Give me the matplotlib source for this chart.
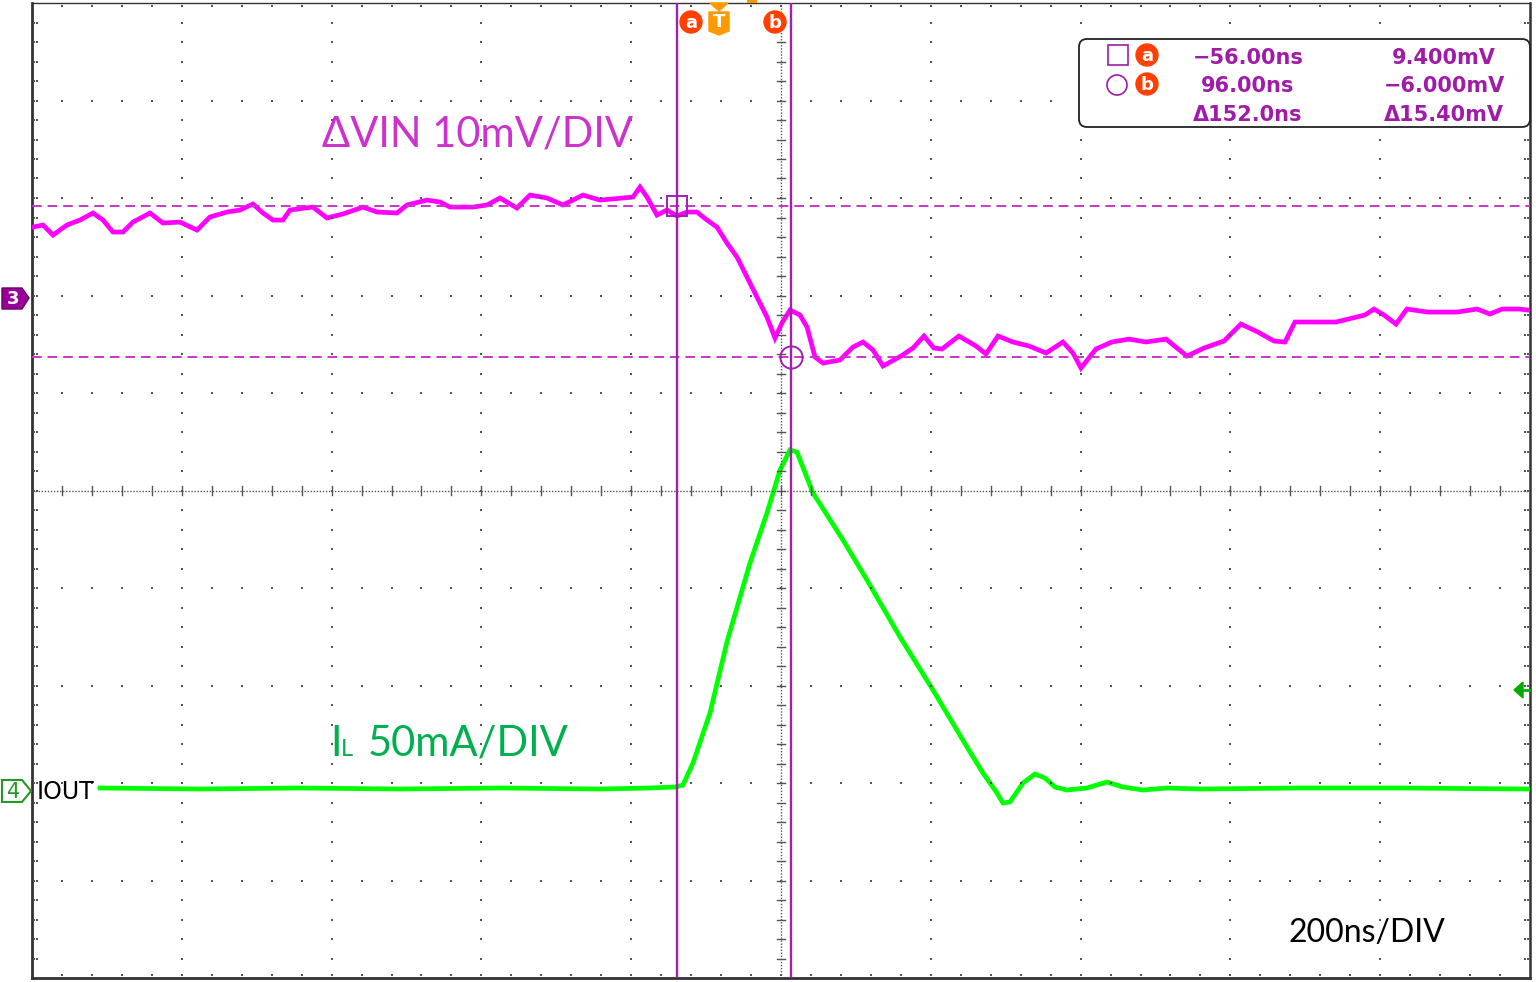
import numpy as np
import matplotlib
matplotlib.use('Agg')
import matplotlib.pyplot as plt
from matplotlib.patches import Polygon, Rectangle, Circle, FancyBboxPatch

# ---------------- data (time in ns relative to trigger) ----------------
vin_t = [-915.9, -902.5, -889.2, -870.5, -853.1, -835.8, -822.4, -809.1, -795.7, -782.4,
         -759.7, -742.3, -719.6, -696.9, -679.6, -656.9, -639.5, -622.2, -608.8, -595.5,
         -582.1, -572.8, -542.1, -523.4, -502.0, -475.3, -456.6, -429.9, -416.6, -389.9,
         -372.5, -359.1, -328.4, -309.7, -292.4, -269.7, -252.3, -229.6, -208.3, -181.6,
         -158.9, -128.2, -114.8, -105.5, -96.1, -82.8, -69.4, -56.1, -42.7, -29.4,
         -16.0, -2.7, 10.7, 24.0, 37.4, 50.7, 64.1, 74.8, 84.1, 94.8,
         108.1, 117.5, 128.2, 138.9, 161.5, 178.9, 192.3, 205.6, 219.0, 243.0,
         259.0, 273.7, 287.0, 297.7, 320.4, 343.1, 356.5, 372.5, 392.5, 413.9,
         436.6, 459.3, 472.6, 483.3, 503.3, 524.7, 547.4, 570.1, 596.8, 624.8,
         647.5, 674.2, 696.9, 719.6, 741.0, 755.7, 769.0, 797.1, 823.8, 862.5,
         874.5, 887.8, 903.9, 918.5, 946.6, 985.3, 1012.0, 1029.4, 1045.4, 1068.1,
         1080.1]
vin_mv = [7.28, 7.49, 6.46, 7.49, 8.00, 8.72, 8.00, 6.77, 6.77, 7.79,
          8.72, 7.69, 7.79, 6.97, 8.31, 8.82, 9.03, 9.64, 8.72, 8.00,
          8.00, 9.03, 9.33, 8.21, 8.62, 9.33, 8.82, 8.72, 9.54, 10.05,
          9.85, 9.33, 9.33, 9.54, 10.26, 9.23, 10.56, 10.26, 9.54, 10.56,
          10.05, 10.26, 10.36, 11.38, 10.36, 8.51, 9.03, 8.41, 8.82, 8.82,
          8.00, 7.28, 5.64, 4.21, 2.15, 0.10, -1.95, -4.10, -2.56, -1.23,
          -1.74, -2.97, -6.05, -6.67, -6.36, -5.03, -4.51, -5.33, -6.97, -5.95,
          -5.13, -3.90, -5.13, -5.23, -3.90, -4.92, -5.74, -3.90, -4.51, -4.92,
          -5.64, -4.51, -5.64, -7.18, -5.23, -4.51, -4.21, -4.51, -4.21, -5.95,
          -5.13, -4.41, -2.67, -3.49, -4.41, -4.51, -2.46, -2.46, -2.46, -1.74,
          -1.13, -1.74, -2.67, -1.13, -1.44, -1.44, -1.13, -1.64, -1.13, -1.13,
          -1.23]

il_t = [-826.4, -692.9, -559.4, -425.9, -292.4, -158.9, -92.1, -58.7, -48.1, -34.7,
        -12.0, 10.7, 41.4, 64.1, 81.5, 94.8, 104.1, 125.5, 165.6, 197.6,
        241.7, 285.7, 331.1, 352.5, 371.2, 379.2, 388.5, 405.9, 421.9, 435.2,
        448.6, 464.6, 491.3, 518.0, 539.4, 566.1, 598.1, 642.2, 775.7, 909.2,
        1080.1]
il_ma = [1.03, 0.51, 1.03, 0.51, 1.03, 0.51, 1.03, 1.54, 2.56, 13.85,
         39.5, 76.0, 116.4, 142.1, 164.1, 174.4, 173.3, 152.3, 128.2, 107.7,
         78.5, 51.3, 22.1, 8.7, -1.54, -6.67, -6.15, 3.59, 8.21, 6.15,
         1.54, 0.0, 1.03, 4.10, 1.54, 0.0, 1.03, 0.51, 1.03, 1.03,
         0.51]

cursor_t = [-56.0, 96.0]
cursor_v = [9.4, -6.0]
readout_time = ['\u221256.00ns', '96.00ns', '\u0394152.0ns']
readout_volt = ['9.400mV', '\u22126.000mV', '\u039415.40mV']

ch3_label = '\u0394VIN 10mV/DIV'
ch4_label = '50mA/DIV'
timebase_label = '200ns/DIV'

# ---------------- figure ----------------
W, H = 1536, 982
fig = plt.figure(figsize=(W / 100, H / 100), dpi=100)
L, R, T, B = 32, 1530, 3, 978
ax = fig.add_axes([L / W, 1 - B / H, (R - L) / W, (B - T) / H])
x0 = -917.2
ax.set_xlim(x0, x0 + 2000)
ax.set_ylim(-5, 5)
ax.set_xticks([]); ax.set_yticks([])
for s, lw in zip(['left', 'bottom', 'right', 'top'], [2.0, 2.0, 1.8, 1.0]):
    ax.spines[s].set_color('#333333')
    ax.spines[s].set_linewidth(lw)

ch3_off = 1.974   # divisions
ch4_off = -3.072
ch3_scale = 10.0  # mV/div
ch4_scale = 50.0  # mA/div

# grid dots
gx = x0 + 200 * np.arange(11)
gy = np.arange(-5, 6)
mx = x0 + 40 * np.arange(51)
my = -5 + 0.2 * np.arange(51)
dx, dy = [], []
for y in gy[1:-1]:
    if y == 0:
        continue
    dx += list(mx[1:-1]); dy += [y] * 49
for x in gx[1:-1]:
    if x == gx[5]:
        continue
    dx += [x] * 49; dy += list(my[1:-1])
ax.plot(dx, dy, ls='none', marker='s', ms=1.5, mew=0, color='#555555', zorder=5)
# border ticks
bx, by = [], []
for x in mx[1:-1]:
    bx += [x, x]; by += [-5 + 0.03, 5 - 0.03]
for y in my[1:-1]:
    bx += [x0 + 3, x0 + 7, x0 + 2000 - 3, x0 + 2000 - 7]; by += [y] * 4
ax.plot(bx, by, ls='none', marker='s', ms=1.5, mew=0, color='#555555', zorder=5)
# centre cross lines
ax.plot([x0, x0 + 2000], [0, 0], color='#555555', lw=1.0, ls=(0, (1, 1.2)), zorder=5)
ax.plot([gx[5], gx[5]], [-5, 5], color='#555555', lw=1.0, ls=(0, (1, 1.2)), zorder=5)
for x in mx[1:-1]:
    ax.plot([x, x], [-0.05, 0.05], color='#555555', lw=1.0, zorder=5)
for y in my[1:-1]:
    ax.plot([gx[5] - 5, gx[5] + 5], [y, y], color='#555555', lw=1.0, zorder=5)

# traces
ax.plot(vin_t, np.array(vin_mv) / ch3_scale + ch3_off, color='#FF00FF', lw=3.4, zorder=3,
        solid_joinstyle='miter')
ax.plot(il_t, np.array(il_ma) / ch4_scale + ch4_off, color='#00FF00', lw=3.4, zorder=3,
        solid_joinstyle='miter')

# cursors
for t in cursor_t:
    ax.axvline(t, color='#A020B0', lw=1.7, zorder=6)
for v in cursor_v:
    ax.axhline(v / ch3_scale + ch3_off, color='#CC33CC', lw=1.4, dashes=(5, 3), zorder=4)
ax.plot(cursor_t[0], cursor_v[0] / ch3_scale + ch3_off, marker='s', ms=15, mfc='none',
        mec='#A020B0', mew=1.4, zorder=7)
ax.plot(cursor_t[1], cursor_v[1] / ch3_scale + ch3_off, marker='o', ms=16, mfc='none',
        mec='#A020B0', mew=1.4, zorder=7)

# ---------------- overlay in pixel coordinates ----------------
ov = fig.add_axes([0, 0, 1, 1], zorder=10)
ov.set_xlim(0, W); ov.set_ylim(H, 0)
ov.axis('off')
ov.patch.set_alpha(0)

font_lbl = ['Lato', 'DejaVu Sans']
ov.text(322, 146, ch3_label, color='#CC33CC', fontsize=30, family=font_lbl,
        ha='left', va='baseline')
ov.text(330, 756, 'I', color='#00B050', fontsize=30, family=font_lbl, ha='left', va='baseline')
ov.text(341, 756, 'L', color='#00B050', fontsize=17, family=font_lbl, ha='left', va='baseline')
ov.text(368, 756, ch4_label, color='#00B050', fontsize=30, family=font_lbl,
        ha='left', va='baseline')
ov.text(1288, 942, timebase_label, color='black', fontsize=23, family=font_lbl,
        ha='left', va='baseline')

# readout box
ov.add_patch(FancyBboxPatch((1079, 39), 451, 88, boxstyle='round,pad=0,rounding_size=8',
                            fc='white', ec='#222222', lw=1.3, zorder=1))
rows_y = [64, 92, 121]
purple = '#A01CA8'
for i in range(3):
    ov.text(1248, rows_y[i], readout_time[i], color=purple, fontsize=15,
            fontweight='bold', family='DejaVu Sans', ha='center', va='baseline', zorder=3)
    ov.text(1444, rows_y[i], readout_volt[i], color=purple, fontsize=15,
            fontweight='bold', family='DejaVu Sans', ha='center', va='baseline', zorder=3)
ov.add_patch(Rectangle((1108, 45), 20, 20, fc='none', ec=purple, lw=1.2, zorder=3))
ov.add_patch(Circle((1117, 85), 10, fc='none', ec=purple, lw=1.2, zorder=3))


def badge(x, y, letter, color='#FF4000'):
    ov.add_patch(Circle((x, y), 11, fc=color, ec=color, zorder=3))
    ov.text(x, y + 1, letter, color='white', fontsize=13, fontweight='bold',
            family='DejaVu Sans', ha='center', va='center', zorder=4)


badge(1147, 55, 'a')
badge(1147, 84, 'b')
badge(691, 22, 'a')
badge(775, 22, 'b')
# trigger badge
ov.add_patch(Polygon([(709, 12), (729, 12), (729, 31), (719, 35), (709, 31)],
                     closed=True, fc='#FF9900', ec='#FF9900', zorder=3))
ov.text(719, 22, 'T', color='white', fontsize=13, fontweight='bold', family='DejaVu Sans',
        ha='center', va='center', zorder=4)
ov.add_patch(Polygon([(710, 3), (728, 3), (719, 11)], closed=True, fc='#FF9900',
                     ec='#FF9900', zorder=3))
ov.add_patch(Rectangle((747, 0), 10, 3, fc='#FF9900', ec='none', zorder=3))

# channel markers
ov.add_patch(Polygon([(2, 288), (22, 288), (29, 298), (22, 309), (2, 309)], closed=True,
                     fc='#990099', ec='#660066', lw=1, zorder=3))
ov.text(13, 299, '3', color='white', fontsize=13, fontweight='bold', family='DejaVu Sans',
        ha='center', va='center', zorder=4)
ov.add_patch(Polygon([(2, 780), (22, 780), (31, 791), (22, 802), (2, 802)], closed=True,
                     fc='white', ec='#229922', lw=1.5, zorder=3))
ov.text(14, 792, '4', color='#229922', fontsize=15, family='DejaVu Sans',
        ha='center', va='center', zorder=4)
ov.text(37, 799, 'IOUT', color='black', fontsize=17, family='DejaVu Sans',
        ha='left', va='baseline', zorder=4)

# ch4 trigger level arrow on right edge
ov.add_patch(Polygon([(1514, 690), (1523, 682), (1523, 698)], closed=True, fc='#00AA00',
                     ec='#00AA00', zorder=3))
ov.plot([1520, 1530], [690, 690], color='#00AA00', lw=2, zorder=3)

fig.savefig('out.png', dpi=100, facecolor='white')
